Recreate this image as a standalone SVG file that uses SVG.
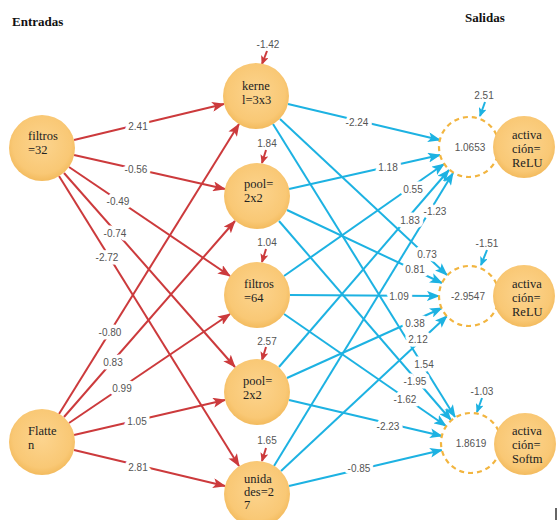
<svg xmlns="http://www.w3.org/2000/svg" width="558" height="520" viewBox="0 0 558 520">
<defs>
<radialGradient id="nf" cx="50%" cy="45%" r="55%">
<stop offset="0" stop-color="#FCD48E"/>
<stop offset="0.8" stop-color="#F9C875"/>
<stop offset="1" stop-color="#F3BB5E"/>
</radialGradient>
<marker id="ar" markerUnits="userSpaceOnUse" markerWidth="13" markerHeight="10" refX="12" refY="5" orient="auto">
<path d="M0,0 L13,5 L0,10 L3,5 z" fill="#CC3A3C"/>
</marker>
<marker id="ab" markerUnits="userSpaceOnUse" markerWidth="13" markerHeight="10" refX="12" refY="5" orient="auto">
<path d="M0,0 L13,5 L0,10 L3,5 z" fill="#1DB2E2"/>
</marker>
<marker id="ars" markerUnits="userSpaceOnUse" markerWidth="9" markerHeight="8" refX="8" refY="4" orient="auto">
<path d="M0,0 L9,4 L0,8 L2,4 z" fill="#CC3A3C"/>
</marker>
<marker id="abs" markerUnits="userSpaceOnUse" markerWidth="9" markerHeight="8" refX="8" refY="4" orient="auto">
<path d="M0,0 L9,4 L0,8 L2,4 z" fill="#1DB2E2"/>
</marker>
</defs>
<style>
.r{stroke:#CC3A3C;stroke-width:2;fill:none;marker-end:url(#ar)}
.b{stroke:#1DB2E2;stroke-width:2;fill:none;marker-end:url(#ab)}
.rs{stroke:#CC3A3C;stroke-width:2;fill:none;marker-end:url(#ars)}
.bs{stroke:#1DB2E2;stroke-width:2;fill:none;marker-end:url(#abs)}
.lb{font-family:"Liberation Sans",Arial,sans-serif;font-size:10px;fill:#555;text-anchor:middle;stroke:#fff;stroke-width:7;paint-order:stroke;stroke-linejoin:round}
.bl{font-family:"Liberation Sans",Arial,sans-serif;font-size:10px;fill:#555;text-anchor:middle}
.n{fill:url(#nf);stroke:none}
.d{fill:#fff;stroke:#F2B540;stroke-width:2.2;stroke-dasharray:5 4}
.t{font-family:"Liberation Serif","Times New Roman",serif;font-size:12.5px;fill:#222}
.h{font-family:"Liberation Serif","Times New Roman",serif;font-size:13px;font-weight:bold;fill:#111}
</style>
<rect width="558" height="520" fill="#fff"/>
<text class="h" x="12" y="26">Entradas</text>
<text class="h" x="465" y="22">Salidas</text>

<g id="connectors">
<line class="r" x1="74" y1="140" x2="224" y2="104"/>
<line class="r" x1="74" y1="155" x2="225" y2="189"/>
<line class="r" x1="69" y1="167" x2="230" y2="276"/>
<line class="r" x1="64" y1="173" x2="235" y2="367"/>
<line class="r" x1="59" y1="176" x2="239" y2="466"/>
<line class="r" x1="59" y1="414" x2="239" y2="124"/>
<line class="r" x1="64" y1="417" x2="235" y2="221"/>
<line class="r" x1="69" y1="423" x2="230" y2="314"/>
<line class="r" x1="74" y1="435" x2="225" y2="400"/>
<line class="r" x1="74" y1="450" x2="225" y2="486"/>

<line class="b" x1="288" y1="104" x2="440" y2="140"/>
<line class="b" x1="289" y1="189" x2="440" y2="155"/>
<line class="b" x1="284" y1="276" x2="444" y2="164"/>
<line class="b" x1="279" y1="367" x2="449" y2="170"/>
<line class="b" x1="274" y1="466" x2="453" y2="173"/>

<line class="b" x1="280" y1="119" x2="447" y2="275"/>
<line class="b" x1="287" y1="210" x2="442" y2="283"/>
<line class="b" x1="290" y1="295" x2="439" y2="296"/>
<line class="b" x1="287" y1="378" x2="442" y2="308"/>
<line class="b" x1="281" y1="471" x2="447" y2="316"/>

<line class="b" x1="273" y1="124" x2="455" y2="417"/>
<line class="b" x1="279" y1="221" x2="451" y2="420"/>
<line class="b" x1="284" y1="314" x2="446" y2="426"/>
<line class="b" x1="289" y1="400" x2="442" y2="436"/>
<line class="b" x1="289" y1="486" x2="442" y2="450"/>

<line class="rs" x1="267" y1="51" x2="262" y2="64"/>
<line class="rs" x1="266" y1="150" x2="262" y2="163"/>
<line class="rs" x1="266" y1="249" x2="262" y2="262"/>
<line class="rs" x1="266" y1="347" x2="262" y2="360"/>
<line class="rs" x1="266" y1="448" x2="262" y2="461"/>
<line class="bs" x1="485" y1="102" x2="480" y2="116"/>
<line class="bs" x1="487" y1="250" x2="481" y2="265"/>
<line class="bs" x1="482" y1="398" x2="477" y2="412"/>

<text class="lb" x="138" y="129.5">2.41</text>
<text class="lb" x="136" y="172.5">-0.56</text>
<text class="lb" x="118" y="204.5">-0.49</text>
<text class="lb" x="115" y="236.5">-0.74</text>
<text class="lb" x="107" y="260.5">-2.72</text>
<text class="lb" x="110" y="335.5">-0.80</text>
<text class="lb" x="113" y="365.5">0.83</text>
<text class="lb" x="122" y="391.5">0.99</text>
<text class="lb" x="137" y="424.5">1.05</text>
<text class="lb" x="138" y="470.5">2.81</text>

<text class="lb" x="357" y="125.5">-2.24</text>
<text class="lb" x="388" y="170.5">1.18</text>
<text class="lb" x="413" y="192.5">0.55</text>
<text class="lb" x="410" y="223.5">1.83</text>
<text class="lb" x="435" y="214.5">-1.23</text>
<text class="lb" x="427" y="257.5">0.73</text>
<text class="lb" x="415" y="272.5">0.81</text>
<text class="lb" x="399" y="299.5">1.09</text>
<text class="lb" x="415" y="326.5">0.38</text>
<text class="lb" x="418" y="342.5">2.12</text>
<text class="lb" x="424" y="367.5">1.54</text>
<text class="lb" x="415" y="384.5">-1.95</text>
<text class="lb" x="405" y="402.5">-1.62</text>
<text class="lb" x="388" y="429.5">-2.23</text>
<text class="lb" x="359" y="471.5">-0.85</text>

<text class="bl" x="268" y="48">-1.42</text>
<text class="bl" x="267" y="147">1.84</text>
<text class="bl" x="267" y="246">1.04</text>
<text class="bl" x="267" y="345">2.57</text>
<text class="bl" x="267" y="444">1.65</text>
<text class="bl" x="484" y="99">2.51</text>
<text class="bl" x="487" y="247">-1.51</text>
<text class="bl" x="482" y="395">-1.03</text>
</g>

<g id="in1"><circle class="n" cx="42" cy="148" r="33"/><text class="t" x="28" y="140">filtros</text><text class="t" x="28" y="154">=32</text></g>
<g id="in2"><circle class="n" cx="42" cy="442" r="33"/><text class="t" x="28" y="435">Flatte</text><text class="t" x="28" y="449">n</text></g>

<g id="h1"><circle class="n" cx="256" cy="96" r="33"/><text class="t" x="242" y="90">kerne</text><text class="t" x="242" y="104">l=3x3</text></g>
<g id="h2"><circle class="n" cx="257" cy="196" r="33"/><text class="t" x="244" y="188">pool=</text><text class="t" x="244" y="202">2x2</text></g>
<g id="h3"><circle class="n" cx="257" cy="295" r="33"/><text class="t" x="244" y="288">filtros</text><text class="t" x="244" y="302">=64</text></g>
<g id="h4"><circle class="n" cx="257" cy="392" r="33"/><text class="t" x="243" y="385">pool=</text><text class="t" x="243" y="399">2x2</text></g>
<g id="h5"><circle class="n" cx="257" cy="494" r="33"/><text class="t" x="244" y="483">unida</text><text class="t" x="244" y="496">des=2</text><text class="t" x="244" y="509">7</text></g>

<g id="o1"><circle class="d" cx="469" cy="147" r="30"/><text class="bl" x="470" y="150.5">1.0653</text></g>
<g id="s1"><circle class="n" cx="524" cy="147" r="31"/><text class="t" x="512" y="139">activa</text><text class="t" x="512" y="153">ción=</text><text class="t" x="512" y="167">ReLU</text></g>
<g id="o2"><circle class="d" cx="469" cy="296" r="30"/><text class="bl" x="468" y="299.5">-2.9547</text></g>
<g id="s2"><circle class="n" cx="524" cy="296" r="31"/><text class="t" x="512" y="288">activa</text><text class="t" x="512" y="302">ción=</text><text class="t" x="512" y="316">ReLU</text></g>
<g id="o3"><circle class="d" cx="471" cy="443" r="30"/><text class="bl" x="471" y="446.5">1.8619</text></g>
<g id="s3"><circle class="n" cx="525" cy="444" r="31"/><text class="t" x="512" y="435">activa</text><text class="t" x="512" y="449">ción=</text><text class="t" x="512" y="463">Softm</text></g>

<line x1="556" y1="508" x2="556" y2="520" stroke="#333" stroke-width="1.5"/>
</svg>
